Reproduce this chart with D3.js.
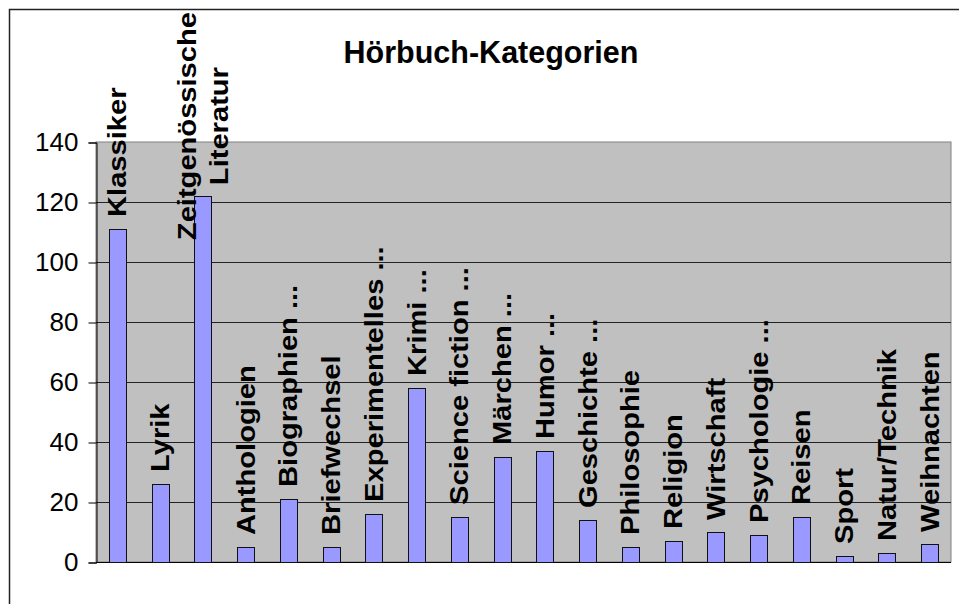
<!DOCTYPE html>
<html>
<head>
<meta charset="utf-8">
<title>Hörbuch-Kategorien</title>
<style>
  body { margin: 0; background: #fff; }
  svg text { font-family: Arial, "Liberation Sans", sans-serif; fill: #000; }
</style>
</head>
<body>
<svg id="viz" width="959" height="604"></svg>
<script src="https://d3js.org/d3.v7.min.js"></script>
<script>
// data
var categories = ["Klassiker", "Lyrik", "Zeitgenössische\nLiteratur", "Anthologien", "Biographien ...",
    "Briefwechsel", "Experimentelles ...", "Krimi ...", "Science fiction ...", "Märchen ...",
    "Humor ...", "Geschichte ...", "Philosophie", "Religion", "Wirtschaft",
    "Psychologie ...", "Reisen", "Sport", "Natur/Technik", "Weihnachten"];
var values = [111, 26, 122, 5, 21, 5, 16, 58, 15, 35, 37, 14, 5, 7, 10, 9, 15, 2, 3, 6];
var yTicks = [0, 20, 40, 60, 80, 100, 120, 140];
var title = "Hörbuch-Kategorien";

var svg = d3.select("#viz");

// chart frame (runs off the right / bottom of the picture)
svg.append("rect")
    .attr("x", 9.5).attr("y", 9.5)
    .attr("width", 1000).attr("height", 1000)
    .attr("fill", "none")
    .attr("stroke", "#222")
    .attr("stroke-width", 1.5);

var plot = {left: 96, right: 951, top: 142, bottom: 562};

var x = d3.scaleBand()
    .domain(d3.range(categories.length))
    .range([plot.left, plot.right])
    .paddingInner(0.6)
    .paddingOuter(0.3);

var y = d3.scaleLinear()
    .domain([0, 140])
    .range([plot.bottom, plot.top]);

// plot area
svg.append("rect")
    .attr("x", plot.left).attr("y", plot.top)
    .attr("width", plot.right - plot.left)
    .attr("height", plot.bottom - plot.top)
    .attr("fill", "#c0c0c0")
    .attr("stroke", "#808080")
    .attr("stroke-width", 1);

// gridlines
svg.append("g")
    .selectAll("line")
    .data(yTicks.filter(function(d) { return d > 0 && d < 140; }))
    .enter().append("line")
    .attr("x1", plot.left).attr("x2", plot.right)
    .attr("y1", function(d) { return Math.round(y(d)) + 0.5; })
    .attr("y2", function(d) { return Math.round(y(d)) + 0.5; })
    .attr("stroke", "#222")
    .attr("stroke-width", 1);

// y axis
var yAxis = svg.append("g")
    .attr("transform", "translate(" + (plot.left + 0.5) + ",0.5)")
    .call(d3.axisLeft(y).tickValues(yTicks).tickSize(8).tickPadding(10));
yAxis.select(".domain").attr("stroke", "#000");
yAxis.selectAll(".tick line").attr("stroke", "#000");
yAxis.selectAll(".tick text")
    .style("font-size", "26px")
    .style("font-family", "Arial, 'Liberation Sans', sans-serif")
    .attr("fill", "#000");

// x axis baseline
svg.append("line")
    .attr("x1", plot.left).attr("x2", plot.right)
    .attr("y1", plot.bottom + 0.5).attr("y2", plot.bottom + 0.5)
    .attr("stroke", "#000");

// bars
svg.append("g")
    .selectAll("rect")
    .data(values)
    .enter().append("rect")
    .attr("x", function(d, i) { return Math.round(x(i)) + 0.5; })
    .attr("y", function(d) { return Math.round(y(d)) + 0.5; })
    .attr("width", Math.round(x.bandwidth()))
    .attr("height", function(d) { return Math.round(y(0)) - Math.round(y(d)); })
    .attr("fill", "#9999ff")
    .attr("stroke", "#111")
    .attr("stroke-width", 1);

// rotated data labels above bars
var stretch = 1.12, gap = 12, lineStep = 32, topLimit = 12;
var labels = svg.append("g");
categories.forEach(function(name, i) {
    var lines = name.split("\n");
    var cx = x(i) + x.bandwidth() / 2;
    var g = labels.append("g");
    var texts = lines.map(function(line, k) {
        return g.append("text")
            .attr("text-anchor", "middle")
            .attr("dominant-baseline", "central")
            .style("font-size", "26px")
            .style("font-weight", "bold")
            .text(line);
    });
    var len = d3.max(texts, function(t) { return t.node().getComputedTextLength(); }) * stretch;
    var cy = Math.max(y(values[i]) - gap - len / 2, topLimit + len / 2);
    texts.forEach(function(t, k) {
        var dx = (k - (lines.length - 1) / 2) * lineStep;
        t.attr("transform", "translate(" + (cx + dx) + "," + cy + ") rotate(-90) scale(" + stretch + ",1)");
    });
});

// title
svg.append("text")
    .attr("x", 491)
    .attr("y", 63)
    .attr("text-anchor", "middle")
    .style("font-size", "30.5px")
    .style("font-weight", "bold")
    .text(title);
</script>
</body>
</html>
